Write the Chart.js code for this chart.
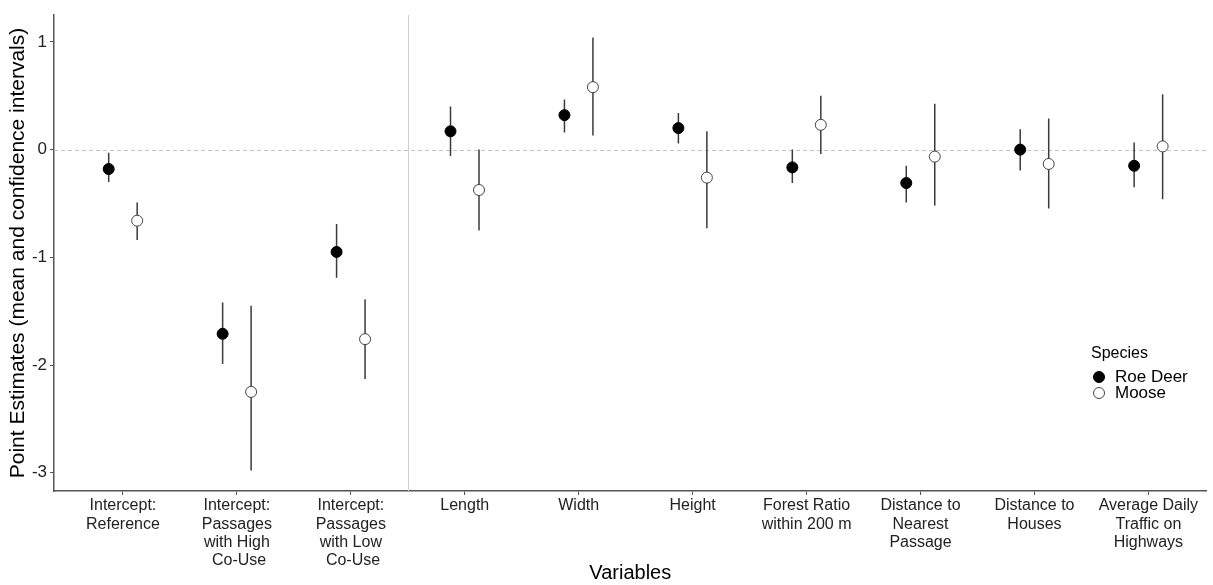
<!DOCTYPE html>
<html>
<head>
<meta charset="utf-8">
<script src="https://cdn.jsdelivr.net/npm/chart.js@4.4.1/dist/chart.umd.min.js"></script>
<style>
  html, body { margin: 0; padding: 0; background: #fff; overflow: hidden; }
  #wrap { width: 1213px; height: 585px; }
</style>
</head>
<body>
<div id="wrap"><canvas id="chart"></canvas></div>
<script>
// variables on the x axis
const categories = [
  ['Intercept:', 'Reference'],
  ['Intercept:', 'Passages', 'with High', ' Co-Use'],
  ['Intercept:', 'Passages', 'with Low', ' Co-Use'],
  ['Length'],
  ['Width'],
  ['Height'],
  ['Forest Ratio', 'within 200 m'],
  ['Distance to', 'Nearest', 'Passage'],
  ['Distance to', 'Houses'],
  ['Average Daily', 'Traffic on', 'Highways']
];

// Roe Deer estimates
const roeMean = [-0.18, -1.71, -0.95, 0.17, 0.32, 0.20, -0.165, -0.31, 0.0, -0.15];
const roeLow  = [-0.30, -1.99, -1.19, -0.06, 0.16, 0.056, -0.31, -0.49, -0.195, -0.35];
const roeHigh = [-0.03, -1.42, -0.69, 0.40, 0.465, 0.34, 0.0, -0.15, 0.19, 0.065];

// Moose estimates
const mooseMean = [-0.66, -2.25, -1.76, -0.375, 0.58, -0.26, 0.23, -0.065, -0.133, 0.03];
const mooseLow  = [-0.84, -2.98, -2.13, -0.75, 0.13, -0.73, -0.04, -0.52, -0.546, -0.46];
const mooseHigh = [-0.49, -1.45, -1.39, 0.0, 1.04, 0.17, 0.50, 0.425, 0.29, 0.514];

const yTicks = [-3, -2, -1, 0, 1];
const dodge = 0.125;
const FONT = '"Liberation Sans", Arial, sans-serif';

const points = (means, off) => means.map((m, i) => ({ x: i + 1 + off, y: m }));
const whiskers = (lo, hi, off) => {
  const out = [];
  lo.forEach((l, i) => {
    const x = i + 1 + off;
    out.push({ x: x, y: l }, { x: x, y: hi[i] }, { x: x, y: null });
  });
  return out;
};

// zero line + separator between intercepts and covariates
const refLines = {
  id: 'refLines',
  beforeDatasetsDraw(chart) {
    const { ctx, chartArea: a, scales: { x, y } } = chart;
    ctx.save();
    ctx.strokeStyle = '#c4c4c4';
    ctx.lineWidth = 1;
    ctx.setLineDash([4, 3]);
    const y0 = Math.round(y.getPixelForValue(0)) + 0.5;
    ctx.beginPath(); ctx.moveTo(a.left, y0); ctx.lineTo(a.right, y0); ctx.stroke();
    ctx.setLineDash([]);
    ctx.strokeStyle = '#cfcfcf';
    const xs = Math.round(x.getPixelForValue(3.5)) + 0.5;
    ctx.beginPath(); ctx.moveTo(xs, a.top); ctx.lineTo(xs, a.bottom); ctx.stroke();
    ctx.restore();
  }
};

// legend drawn inside the plot, like the ggplot one
const speciesLegend = {
  id: 'speciesLegend',
  afterDraw(chart) {
    const ctx = chart.ctx;
    ctx.save();
    ctx.fillStyle = '#000';
    ctx.textBaseline = 'middle';
    ctx.font = '16px ' + FONT;
    ctx.fillText('Species', 1091, 354);
    ctx.font = '17px ' + FONT;
    const items = [
      { label: 'Roe Deer', fill: '#000', stroke: '#000', y: 377 },
      { label: 'Moose', fill: '#fff', stroke: '#444', y: 393 }
    ];
    items.forEach(it => {
      ctx.beginPath();
      ctx.arc(1099, it.y, 5.5, 0, Math.PI * 2);
      ctx.fillStyle = it.fill; ctx.fill();
      ctx.lineWidth = 1; ctx.strokeStyle = it.stroke; ctx.stroke();
      ctx.fillStyle = '#000';
      ctx.fillText(it.label, 1115, it.y);
    });
    ctx.restore();
  }
};

new Chart(document.getElementById('chart'), {
  type: 'scatter',
  data: {
    datasets: [
      { label: 'Roe Deer', data: points(roeMean, -dodge), backgroundColor: '#000', borderColor: '#000',
        borderWidth: 1, pointRadius: 5.5, order: 0 },
      { label: 'Moose', data: points(mooseMean, dodge), backgroundColor: '#fff', borderColor: '#444',
        borderWidth: 1, pointRadius: 5.5, order: 0 },
      { type: 'line', label: 'roe ci', data: whiskers(roeLow, roeHigh, -dodge), borderColor: '#3a3a3a',
        borderWidth: 1.5, pointRadius: 0, spanGaps: false, showLine: true, order: 1 },
      { type: 'line', label: 'moose ci', data: whiskers(mooseLow, mooseHigh, dodge), borderColor: '#3a3a3a',
        borderWidth: 1.5, pointRadius: 0, spanGaps: false, showLine: true, order: 1 }
    ]
  },
  options: {
    responsive: true,
    maintainAspectRatio: false,
    animation: false,
    layout: { padding: { top: 15, right: 0, bottom: 0, left: 0 } },
    plugins: { legend: { display: false }, tooltip: { enabled: false } },
    scales: {
      x: {
        type: 'linear',
        min: 0.395,
        max: 10.51,
        afterBuildTicks: s => { s.ticks = categories.map((c, i) => ({ value: i + 1 })); },
        afterFit: s => { s.height = 94; },
        grid: { drawOnChartArea: false, drawTicks: true, tickLength: 4, tickColor: '#555' },
        border: { display: true, color: '#555', width: 1.5 },
        ticks: {
          autoSkip: false, maxRotation: 0, padding: 2, color: '#222',
          font: { family: FONT, size: 16, lineHeight: 1.13 },
          callback: v => categories[Math.round(v) - 1]
        },
        title: { display: true, text: 'Variables', color: '#000',
          font: { family: FONT, size: 20 }, padding: { top: 0, bottom: 0 } }
      },
      y: {
        min: -3.17,
        max: 1.25,
        afterBuildTicks: s => { s.ticks = yTicks.map(v => ({ value: v })); },
        afterFit: s => { s.width = 54; },
        grid: { drawOnChartArea: false, drawTicks: true, tickLength: 4, tickColor: '#555' },
        border: { display: true, color: '#555', width: 1.5 },
        ticks: { padding: 3, color: '#222', font: { family: FONT, size: 17 } },
        title: { display: true, text: 'Point Estimates (mean and confidence intervals)', color: '#000',
          font: { family: FONT, size: 21 }, padding: { top: 6, bottom: 0 } }
      }
    }
  },
  plugins: [refLines, speciesLegend]
});
</script>
</body>
</html>
